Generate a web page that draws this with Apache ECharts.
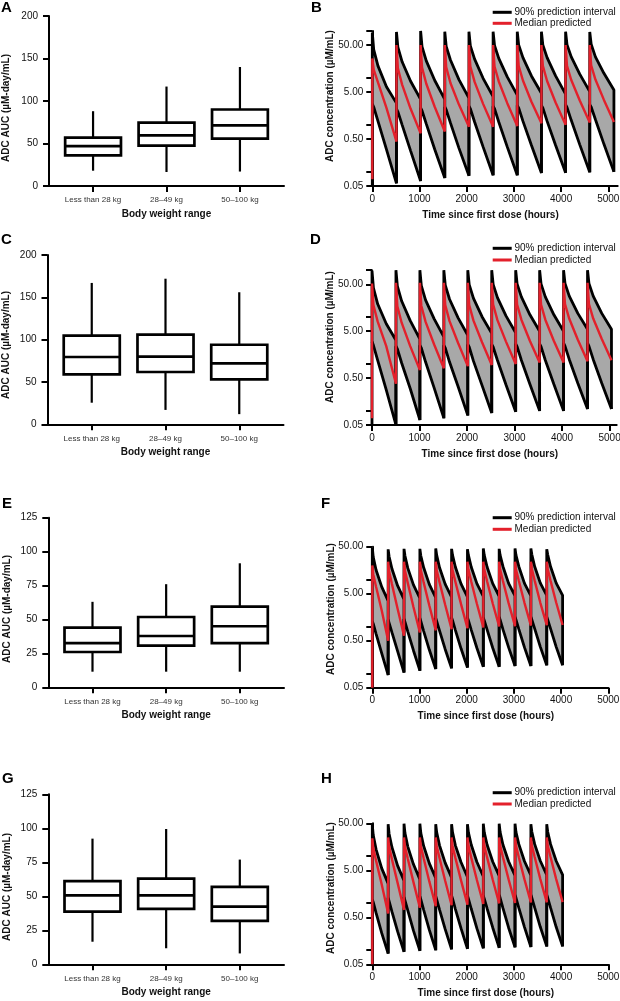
<!DOCTYPE html>
<html><head><meta charset="utf-8">
<script src="https://cdn.jsdelivr.net/npm/echarts@6/dist/echarts.min.js"></script>
<style>html,body{margin:0;padding:0;background:#fff}#c{width:620px;height:1001px}</style>
</head><body><div id="c"></div><script>
// ---------- DATA ----------
const categories = ['Less than 28 kg', '28–49 kg', '50–100 kg'];
// box statistics per category: [min, Q1, median, Q3, max]  (µM-day/mL)
const boxA = [[18, 36, 47, 57, 88], [16.5, 47.5, 59.6, 74.5, 117], [17, 55.7, 71.4, 90, 140]];
const boxC = [[25.5, 59, 79.5, 104.7, 167], [17, 61.8, 80, 106, 172], [12, 53, 72, 94, 156]];
const boxE = [[11.5, 26, 32.6, 44, 63], [11.5, 30.7, 37.8, 51.8, 76], [11.5, 32.6, 45, 59.4, 91.4]];
const boxG = [[16.6, 38.7, 50.7, 61.2, 92.4], [11.8, 40.7, 50.7, 63, 99.5], [8, 32, 42.4, 57, 77]];
const timeTicks = [0, 1000, 2000, 3000, 4000, 5000];
const concLabels = [0.05, 0.5, 5, 50];
const concTicksBD = [0.05, 0.1, 0.5, 1, 5, 10, 50, 100];
const concTicksFH = [0.05, 0.1, 0.5, 1, 5, 10, 50];

// PK panels: dose times (h), sample hours within each cycle, and per-cycle values (µM/mL)
const B_doses = [0, 512, 1024, 1536, 2048, 2560, 3072, 3584, 4096, 4608];
const B_hours = [0, 30, 120, 300, 512];
const B_preDose = [0.05, 0.07];
const B_upper = [[93,40,18,6.5,2.9],[95,45,22,8.5,3.5],[100,46,23,8.8,3.5],[96,47,24,9.2,3.7],[96,48,25,9.8,4.0],[96,49,26,10.5,4.3],[96,50,27,11,4.7],[96,50,27,11,4.5],[96,51,28,12,5.1],[95,52,28,12.5,5.5]];
const B_median = [[26,15,8,2.3,0.44],[50,16,7.2,2.2,0.66],[50,16.5,7.5,2.4,0.72],[50,17,7.8,2.7,0.91],[50,17.5,8.2,2.8,0.91],[50,17.5,8.4,2.9,0.95],[50,18,8.8,3.1,1.08],[50,18,8.6,3.0,1.0],[50,18,9,3.3,1.13],[50,18.5,9.2,3.4,1.15]];
const B_lower = [[2.8,2.4,1.2,0.3,0.057],[2.2,1.9,1.0,0.28,0.064],[2.3,2.0,1.05,0.3,0.074],[2.4,2.1,1.1,0.32,0.083],[2.5,2.2,1.15,0.34,0.085],[2.5,2.2,1.15,0.34,0.085],[2.6,2.3,1.2,0.37,0.095],[2.6,2.3,1.2,0.37,0.096],[2.7,2.35,1.25,0.38,0.098],[2.7,2.4,1.3,0.39,0.1]];

const D_doses = [0, 504, 1008, 1512, 2016, 2520, 3024, 3528, 4032, 4536];
const D_hours = [0, 30, 120, 300, 504];
const D_preDose = [0.05, 0.07];
const D_upper = [[98,42,19,7.2,3.2],[100,46,22,8.4,3.4],[100,47,23,9.2,3.8],[100,48,24,9.6,4.1],[100,49,25,10.2,4.5],[100,50,26,10.6,4.65],[100,51,27,11.2,5.0],[100,51,27,11.2,5.0],[100,52,28,12,5.5],[100,52,28,12,5.5]];
const D_median = [[52,18,8,2.4,0.38],[54,17,7.6,2.4,0.74],[54,17.5,7.9,2.6,0.81],[54,18,8.2,2.8,0.9],[54,18,8.4,2.9,0.95],[54,18.5,8.6,3.0,1.0],[54,18.5,8.8,3.1,1.07],[54,18.5,8.8,3.1,1.07],[54,19,9.2,3.3,1.15],[54,19,9.3,3.4,1.2]];
const D_lower = [[3.0,2.5,1.2,0.28,0.05],[2.4,2.1,1.05,0.3,0.064],[2.5,2.2,1.1,0.31,0.07],[2.5,2.2,1.1,0.33,0.08],[2.6,2.3,1.15,0.35,0.09],[2.6,2.3,1.2,0.36,0.096],[2.7,2.35,1.2,0.37,0.1],[2.7,2.35,1.2,0.37,0.1],[2.8,2.4,1.25,0.39,0.11],[2.8,2.4,1.25,0.39,0.11]];

const F_doses = [0, 336, 672, 1008, 1344, 1680, 2016, 2352, 2688, 3024, 3360, 3696];
const F_hours = [0, 20, 80, 200, 336];
const F_preDose = [0.05, 0.05];
const F_upper = [[48,30,16,7,3.5],[44,31,17,7.4,3.8],[45,32,17.5,7.7,4.0],[45,32,18,7.9,4.1],[46,33,18,8.0,4.2],[45,33,18.5,8.1,4.3],[44,33,18.5,8.2,4.4],[46,33,18.5,8.2,4.4],[45,33,19,8.3,4.5],[46,33,19,8.3,4.5],[46,34,19,8.4,4.6],[44,34,19,8.4,4.6]];
const F_median = [[20,13,7,2.2,0.5],[24,15,8,2.4,0.64],[24,15.5,8.4,2.6,0.75],[24,16,8.7,2.8,0.83],[24,16,8.8,2.9,0.88],[24,16,9,3.0,0.92],[24,16.5,9.1,3.05,0.96],[24,16.5,9.2,3.1,1.0],[24,16.5,9.3,3.15,1.02],[24,16.5,9.4,3.2,1.05],[24,17,9.5,3.2,1.07],[24,17,9.5,3.25,1.08]];
const F_lower = [[1.3,1.15,0.7,0.27,0.093],[1.4,1.2,0.75,0.3,0.105],[1.45,1.25,0.78,0.31,0.115],[1.5,1.3,0.8,0.32,0.125],[1.5,1.3,0.82,0.33,0.13],[1.55,1.35,0.84,0.34,0.135],[1.55,1.35,0.85,0.35,0.14],[1.55,1.35,0.86,0.35,0.14],[1.6,1.4,0.87,0.36,0.145],[1.6,1.4,0.88,0.36,0.145],[1.6,1.4,0.9,0.37,0.15],[1.6,1.4,0.9,0.37,0.15]];

const H_doses = [0, 336, 672, 1008, 1344, 1680, 2016, 2352, 2688, 3024, 3360, 3696];
const H_hours = [0, 20, 80, 200, 336];
const H_preDose = [0.05, 0.05];
const H_upper = [[46,28,14,5.5,2.6],[48,30,15.5,6.3,3.0],[49,31,16,6.7,3.2],[49,31,16.5,7.0,3.4],[48,32,17,7.2,3.5],[48,32,17,7.4,3.6],[48,32,17.5,7.5,3.7],[49,32,17.5,7.6,3.8],[49,32.5,17.5,7.7,3.85],[49,32.5,18,7.8,3.9],[48,33,18,7.9,4.0],[48,33,18,7.9,4.0]];
const H_median = [[24,15,8,2.5,0.6],[25,16,8.6,2.7,0.72],[25,16,8.8,2.8,0.8],[25,16.5,9,2.9,0.86],[25,16.5,9.1,3.0,0.9],[25,16.5,9.2,3.05,0.93],[25,17,9.3,3.1,0.96],[25,17,9.4,3.15,0.99],[25,17,9.5,3.2,1.01],[25,17,9.5,3.2,1.03],[25,17,9.6,3.25,1.04],[25,17,9.6,3.25,1.05]];
const H_lower = [[1.2,1.05,0.62,0.23,0.085],[1.3,1.1,0.66,0.25,0.092],[1.35,1.15,0.7,0.26,0.097],[1.4,1.2,0.72,0.27,0.1],[1.4,1.2,0.73,0.28,0.104],[1.45,1.25,0.75,0.29,0.107],[1.45,1.25,0.76,0.29,0.11],[1.45,1.25,0.77,0.3,0.112],[1.5,1.3,0.78,0.3,0.115],[1.5,1.3,0.79,0.31,0.117],[1.5,1.3,0.8,0.31,0.12],[1.5,1.3,0.8,0.31,0.12]];

// ---------- BUILD ----------
const FONT = 'Liberation Sans, Arial, Helvetica, sans-serif';
const lg = v => Math.log10(v / 0.05);   // log-decades above 0.05
const AX = {color: '#000', width: 2};
const GRAY = '#a8a8a8', RED = '#e3202b';

const grids = [
  {left: 49, top: 16, width: 235, height: 170},      // A
  {left: 372.3, top: 30.9, width: 245.4, height: 155.1}, // B
  {left: 47.5, top: 255, width: 236, height: 169.3}, // C
  {left: 372, top: 270.2, width: 244.7, height: 154.8}, // D
  {left: 48.3, top: 517.7, width: 235.7, height: 169.6}, // E
  {left: 372.3, top: 546.7, width: 236, height: 141}, // F
  {left: 48.3, top: 794.3, width: 235.7, height: 170}, // G
  {left: 372.3, top: 823.3, width: 236, height: 141}  // H
].map(g => Object.assign({outerBoundsMode: 'none', containLabel: false}, g));

const xAxes = [], yAxes = [], series = [];

function boxAxes(gi, max, interval) {
  xAxes.push({type: 'value', gridIndex: gi, min: 0.4, max: 3.6,
    axisLine: {show: true, onZero: false, lineStyle: AX},
    axisTick: {show: true, customValues: [1, 2, 3], length: 6, lineStyle: AX},
    axisLabel: {customValues: [1, 2, 3], formatter: v => categories[Math.round(v) - 1],
      fontSize: 8, color: '#333', margin: 10, fontFamily: FONT},
    splitLine: {show: false},
    name: 'Body weight range', nameLocation: 'middle', nameGap: 23,
    nameTextStyle: {fontWeight: 'bold', fontSize: 10, color: '#111', fontFamily: FONT}});
  yAxes.push({type: 'value', gridIndex: gi, min: 0, max: max, interval: interval,
    axisLine: {show: true, onZero: false, lineStyle: AX},
    axisTick: {show: true, length: 6, lineStyle: AX},
    axisLabel: {fontSize: 10, color: '#111', margin: 11, fontFamily: FONT, formatter: v => String(v)},
    splitLine: {show: false}});
}

function pkAxes(gi, xMax, yMax, ticks) {
  xAxes.push({type: 'value', gridIndex: gi, min: 0, max: xMax,
    axisLine: {show: true, onZero: false, lineStyle: AX},
    axisTick: {show: true, customValues: timeTicks, length: 6, lineStyle: AX},
    axisLabel: {customValues: timeTicks, formatter: v => String(Math.round(v)),
      fontSize: 10, color: '#111', margin: 8, fontFamily: FONT},
    splitLine: {show: false},
    name: 'Time since first dose (hours)', nameLocation: 'middle', nameGap: 24,
    nameTextStyle: {fontWeight: 'bold', fontSize: 10, color: '#111', fontFamily: FONT, padding: [0, 9, 0, 0]}});
  yAxes.push({type: 'value', gridIndex: gi, min: 0, max: lg(yMax),
    axisLine: {show: true, onZero: false, lineStyle: AX},
    axisTick: {show: true, customValues: ticks.map(lg), length: 6, lineStyle: AX},
    axisLabel: {customValues: concLabels.map(lg), formatter: v => (0.05 * Math.pow(10, v)).toFixed(2),
      fontSize: 10, color: '#111', margin: 9, fontFamily: FONT},
    splitLine: {show: false}});
}

function renderBox(params, api) {
  const x = api.value(0);
  const pMin = api.coord([x, api.value(1)]);
  const pQ1 = api.coord([x, api.value(2)]);
  const pMed = api.coord([x, api.value(3)]);
  const pQ3 = api.coord([x, api.value(4)]);
  const pMax = api.coord([x, api.value(5)]);
  const hw = api.size([0.76, 0])[0] / 2;
  const ls = {stroke: '#000', lineWidth: 2.2, fill: null};
  const bs = {stroke: '#000', lineWidth: 2.7, fill: '#fff'};
  return {type: 'group', children: [
    {type: 'line', shape: {x1: pMax[0], y1: pMax[1], x2: pQ3[0], y2: pQ3[1]}, style: ls},
    {type: 'line', shape: {x1: pQ1[0], y1: pQ1[1], x2: pMin[0], y2: pMin[1]}, style: ls},
    {type: 'rect', shape: {x: pQ3[0] - hw, y: pQ3[1], width: 2 * hw, height: pQ1[1] - pQ3[1]}, style: bs},
    {type: 'line', shape: {x1: pMed[0] - hw, y1: pMed[1], x2: pMed[0] + hw, y2: pMed[1]}, style: {stroke: '#000', lineWidth: 2.7}}
  ]};
}

function boxSeries(gi, stats) {
  series.push({type: 'custom', xAxisIndex: gi, yAxisIndex: gi, silent: true, animation: false, z: 3,
    data: stats.map((s, i) => [i + 1].concat(s)),
    encode: {x: 0, y: [1, 2, 3, 4, 5]},
    renderItem: renderBox});
}

function pkSeries(gi, doses, hours, upper, median, lower, pre) {
  const n = hours.length, last = n - 1;
  // gray 90% band: one polygon per dosing cycle
  const bandData = doses.map((d, k) => hours.map(h => d + h).concat(upper[k].map(lg), lower[k].map(lg)));
  const xDims = [], yDims = [];
  for (let i = 0; i < n; i++) xDims.push(i);
  for (let i = n; i < 3 * n; i++) yDims.push(i);
  series.push({type: 'custom', xAxisIndex: gi, yAxisIndex: gi, silent: true, animation: false, z: 1, clip: true,
    data: bandData, encode: {x: xDims, y: yDims},
    renderItem: (params, api) => {
      const pts = [];
      for (let j = 0; j < n; j++) pts.push(api.coord([api.value(j), api.value(n + j)]));
      for (let j = n - 1; j >= 0; j--) pts.push(api.coord([api.value(j), api.value(2 * n + j)]));
      return {type: 'polygon', shape: {points: pts}, style: {fill: GRAY, stroke: GRAY, lineWidth: 0.5}};
    }});
  const lo = [];
  const up = [[0, lg(pre[0])]], med = [[0, lg(pre[1])]];
  doses.forEach((d, k) => {
    if (k > 0) up.push([d, lg(lower[k - 1][last])]);
    hours.forEach((h, j) => {
      const t = d + h;
      up.push([t, lg(upper[k][j])]); lo.push([t, lg(lower[k][j])]); med.push([t, lg(median[k][j])]);
    });
  });
  const kE = doses.length - 1;
  up.push([doses[kE] + hours[last], lg(lower[kE][last])]);
  const c = {type: 'line', xAxisIndex: gi, yAxisIndex: gi, symbol: 'none', showSymbol: false,
    silent: true, animation: false};
  series.push(Object.assign({}, c, {name: '90% prediction interval', data: up,
    lineStyle: {color: '#000', width: 2.8, join: 'bevel'}, z: 3}));
  series.push(Object.assign({}, c, {name: '90% prediction interval', data: lo,
    lineStyle: {color: '#000', width: 2.8, join: 'bevel'}, z: 3}));
  series.push(Object.assign({}, c, {name: 'Median predicted', data: med,
    lineStyle: {color: RED, width: 2.4, join: 'bevel'}, z: 4}));
}

boxAxes(0, 200, 50); boxSeries(0, boxA);
pkAxes(1, 5200, 100, concTicksBD); pkSeries(1, B_doses, B_hours, B_upper, B_median, B_lower, B_preDose);
boxAxes(2, 200, 50); boxSeries(2, boxC);
pkAxes(3, 5150, 100, concTicksBD); pkSeries(3, D_doses, D_hours, D_upper, D_median, D_lower, D_preDose);
boxAxes(4, 125, 25); boxSeries(4, boxE);
pkAxes(5, 5000, 50, concTicksFH); pkSeries(5, F_doses, F_hours, F_upper, F_median, F_lower, F_preDose);
boxAxes(6, 125, 25); boxSeries(6, boxG);
pkAxes(7, 5000, 50, concTicksFH); pkSeries(7, H_doses, H_hours, H_upper, H_median, H_lower, H_preDose);

// ---------- TEXT / LEGENDS ----------
const graphic = [];
[['A', 1, 8], ['B', 311, 8], ['C', 1, 240], ['D', 310, 240],
 ['E', 2, 504], ['F', 321, 504], ['G', 2, 779], ['H', 321, 779]].forEach(([t, x, y]) => {
  graphic.push({type: 'text', x: x, y: y, silent: true,
    style: {text: t, fontSize: 15, fontWeight: 'bold', fontFamily: FONT, fill: '#000', align: 'left', verticalAlign: 'middle'}});
});
[['ADC AUC (µM-day/mL)', 6, 108], ['ADC AUC (µM-day/mL)', 6, 345], ['ADC AUC (µM-day/mL)', 7, 609], ['ADC AUC (µM-day/mL)', 7, 887],
 ['ADC concentration (µM/mL)', 330, 96], ['ADC concentration (µM/mL)', 330, 337],
 ['ADC concentration (µM/mL)', 331, 609], ['ADC concentration (µM/mL)', 331, 888]].forEach(([t, x, y]) => {
  graphic.push({type: 'text', x: x, y: y, rotation: Math.PI / 2, silent: true,
    style: {text: t, fontSize: 10, fontWeight: 'bold', fontFamily: FONT, fill: '#111', align: 'center', verticalAlign: 'middle'}});
});
[[12.3, 23.3], [248.3, 260], [517.7, 529.3], [792.7, 804]].forEach(([y1, y2]) => {
  graphic.push({type: 'line', silent: true, shape: {x1: 492.7, y1: y1, x2: 511.7, y2: y1}, style: {stroke: '#000', lineWidth: 3}});
  graphic.push({type: 'line', silent: true, shape: {x1: 492.7, y1: y2, x2: 511.7, y2: y2}, style: {stroke: RED, lineWidth: 3}});
  graphic.push({type: 'text', x: 514.5, y: y1, silent: true,
    style: {text: '90% prediction interval', fontSize: 10, fontFamily: FONT, fill: '#111', align: 'left', verticalAlign: 'middle'}});
  graphic.push({type: 'text', x: 514.5, y: y2, silent: true,
    style: {text: 'Median predicted', fontSize: 10, fontFamily: FONT, fill: '#111', align: 'left', verticalAlign: 'middle'}});
});

const chart = echarts.init(document.getElementById('c'), null, {renderer: 'canvas', width: 620, height: 1001});
chart.setOption({
  backgroundColor: '#fff',
  animation: false,
  textStyle: {fontFamily: FONT},
  grid: grids, xAxis: xAxes, yAxis: yAxes, series: series, graphic: graphic
});
</script></body></html>
